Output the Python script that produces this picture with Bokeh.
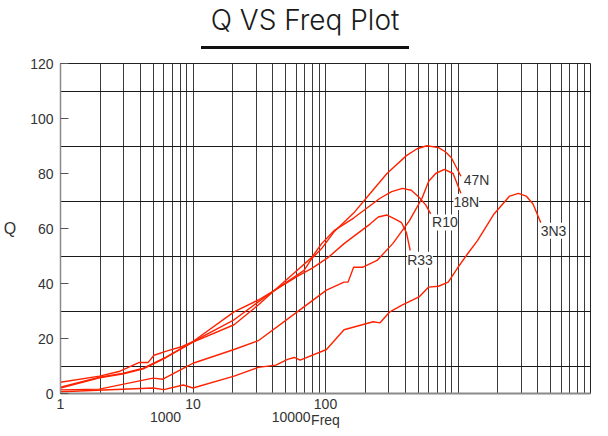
from bokeh.plotting import figure
from bokeh.models import (Range1d, FixedTicker, LogAxis, ColumnDataSource,
                          LabelSet, Div)
from bokeh.layouts import column
from bokeh.core.properties import value
from bokeh.embed import file_html
from bokeh.resources import INLINE

# ---------------- data ----------------
freq_47N = [1, 1.97, 3.0, 4.22, 6.22, 10, 20.4, 31.1, 41.5, 68.9, 78.9, 93.5, 116, 163,
            218, 291, 408, 491, 582, 713, 802, 889, 1052]
q_47N = [2.0, 5.7, 7.2, 9.0, 13.0, 18.7, 25.0, 32.2, 37.6, 44.8, 49.1, 52.7, 58.8, 65.6,
         72.8, 80.0, 86.5, 89.0, 90.1, 89.4, 87.9, 85.8, 79.0]

freq_R10 = [1, 1.97, 3.0, 4.22, 6.22, 10, 20.4, 31.1, 41.5, 61.2, 78.9, 93.5, 116, 163,
            258, 316, 381, 444, 508, 572, 622]
q_R10 = [2.3, 5.9, 7.4, 9.2, 13.1, 18.9, 26.8, 33.3, 37.6, 44.8, 49.5, 54.5, 59.2, 63.8,
         71.0, 73.4, 74.6, 73.9, 71.4, 68.5, 65.3]

freq_R33 = [1, 1.97, 2.81, 3.94, 4.59, 5.08, 6.22, 8.3, 10, 20.4, 31.1, 41.5, 61.2, 78.9,
            105, 138, 218, 250, 291, 333, 375, 408, 436]
q_R33 = [4.1, 6.3, 8.1, 11.3, 11.3, 13.9, 15.3, 17.1, 18.9, 29.7, 34.0, 37.6, 42.6, 45.5,
         49.5, 54.5, 61.7, 64.2, 64.9, 63.5, 62.1, 58.5, 52.0]

freq_18N = [1, 1.97, 3.0, 5.0, 5.92, 8.73, 10, 20.4, 31.1, 61.2, 101.7, 138, 148, 163,
            190, 245, 322, 429, 535, 601, 678, 789, 918, 1052]
q_18N = [1.3, 1.6, 3.4, 5.6, 5.2, 9.5, 11.0, 16.0, 19.2, 29.7, 37.6, 40.5, 40.5, 45.9,
         45.9, 48.4, 54.5, 62.8, 71.0, 77.2, 80.0, 81.5, 80.0, 72.8]

freq_3N3 = [1, 5.0, 6.02, 8.44, 10, 20.4, 31.1, 42.2, 51.7, 58.2, 64.4, 101.7, 138, 229,
            258, 306, 381, 508, 601, 713, 844, 1000, 1186, 1403, 1871, 2453, 2858, 3272,
            3683, 4217]
q_3N3 = [0.65, 2.0, 1.4, 3.1, 2.0, 6.3, 9.5, 10.3, 12.4, 13.1, 12.1, 16.0, 23.2, 26.1,
         25.7, 29.7, 32.2, 35.1, 38.7, 39.0, 40.5, 45.9, 50.9, 55.6, 65.3, 71.8, 72.8, 71.8,
         68.9, 62.1]

label_text = ["47N", "18N", "R10", "R33", "3N3"]
label_x = [1380, 1155, 796, 517, 5260]
label_y = [77.7, 69.6, 62.2, 48.6, 59.2]

x_tick_vals = [1, 10, 100]
x_tick_text = ["1", "10", "100"]
x_row2_pos = [6.2, 55]
x_row2_text = ["1000", "10000"]
y_tick_vals = [0, 20, 40, 60, 80, 100, 120]
y_grid_vals = [10, 30, 50, 70, 90, 110]
x_grid_vals = [m * 10 ** k for k in range(4) for m in range(1, 10)] + [10000]

RED = "#ff2200"
FONT = "Liberation Sans"

# ---------------- title ----------------
title_html = (
    '<div style="width:600px;text-align:center;font-family:Inter,\'Open Sans\',sans-serif;'
    'font-weight:300;font-size:28px;line-height:30px;color:#1a1a1a;">'
    '<span style="display:inline-block;border-bottom:3px solid #111;'
    'padding:0 10px 11px 10px;line-height:30px;font-weight:300;">Q VS Freq Plot</span></div>'
)
title = Div(text=title_html, width=592, height=46)

# ---------------- figure ----------------
p = figure(width=592, height=374, x_axis_type="log",
           x_range=Range1d(1, 10000), y_range=Range1d(0, 120),
           output_backend="svg", toolbar_location=None,
           min_border_left=54, min_border_right=2, min_border_top=7,
           min_border_bottom=0)
p.background_fill_color = "white"
p.border_fill_color = "white"
p.outline_line_color = "#222222"
p.outline_line_width = 1

# grids
p.xgrid.ticker = FixedTicker(ticks=x_grid_vals)
p.xgrid.grid_line_color = "#3a3a3a"
p.xgrid.grid_line_width = 1
p.ygrid.ticker = FixedTicker(ticks=y_grid_vals)
p.ygrid.grid_line_color = "#1a1a1a"
p.ygrid.grid_line_width = 1

# x axis (row 1)
xa = p.xaxis[0]
xa.ticker = FixedTicker(ticks=x_tick_vals, minor_ticks=[])
xa.major_label_overrides = dict(zip(x_tick_vals, x_tick_text))
xa.major_label_text_align = "left"
xa.major_label_standoff = 5
xa.major_tick_out = 0
xa.major_tick_in = 0
xa.minor_tick_out = 0
xa.minor_tick_in = 0
xa.axis_line_color = "#8a8a8a"
xa.axis_line_width = 2
xa.major_label_text_font = FONT
xa.major_label_text_font_size = "14px"
xa.major_label_text_color = "#333333"

# x axis (row 2)
xa2 = LogAxis(ticker=FixedTicker(ticks=x_row2_pos, minor_ticks=[]),
              major_label_overrides=dict(zip(x_row2_pos, x_row2_text)),
              axis_line_color=None, major_tick_line_color=None,
              minor_tick_line_color=None, major_tick_out=0, major_tick_in=0,
              minor_tick_out=0, minor_tick_in=0, major_label_standoff=0,
              major_label_text_font=FONT, major_label_text_font_size="14px",
              major_label_text_color="#333333",
              axis_label="Freq", axis_label_standoff=-13,
              axis_label_text_font=FONT, axis_label_text_font_size="14px",
              axis_label_text_font_style="normal", axis_label_text_color="#333333")
p.add_layout(xa2, "below")

# y axis
ya = p.yaxis[0]
ya.ticker = FixedTicker(ticks=y_tick_vals, minor_ticks=[])
ya.major_tick_in = 8
ya.major_tick_out = 0
ya.minor_tick_in = 0
ya.minor_tick_out = 0
ya.major_tick_line_color = "#555555"
ya.major_label_standoff = 7
ya.axis_line_color = "#8a8a8a"
ya.axis_line_width = 1.5
ya.major_label_text_font = FONT
ya.major_label_text_font_size = "14px"
ya.major_label_text_color = "#333333"
ya.axis_label = "Q"
ya.axis_label_orientation = "horizontal"
ya.axis_label_standoff = 11
ya.axis_label_text_font = FONT
ya.axis_label_text_font_size = "16px"
ya.axis_label_text_font_style = "normal"
ya.axis_label_text_color = "#333333"

# curves
for fx, qy in [(freq_47N, q_47N), (freq_R10, q_R10), (freq_R33, q_R33),
               (freq_18N, q_18N), (freq_3N3, q_3N3)]:
    p.line(x=fx, y=qy, line_color=RED, line_width=1.4)

# curve labels
lab_src = ColumnDataSource(dict(x=label_x, y=label_y, text=label_text))
labels = LabelSet(x="x", y="y", text="text", source=lab_src,
                  text_align="center", text_baseline="middle",
                  text_font=value(FONT), text_font_size="14px",
                  text_color="#333333", background_fill_color="white")
try:
    labels.padding = 3
except Exception:
    pass
p.add_layout(labels)

layout = column(title, p)
open("out.html", "w").write(file_html(layout, INLINE))
